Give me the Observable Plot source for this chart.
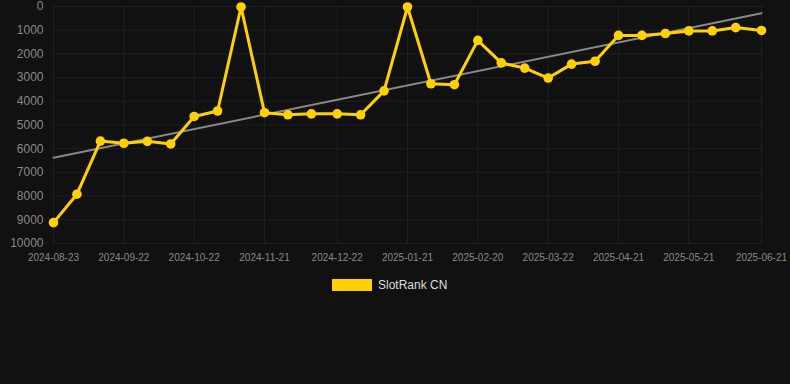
<!DOCTYPE html>
<html>
<head>
<meta charset="utf-8">
<script src="https://cdn.jsdelivr.net/npm/d3@7"></script>
<script src="https://cdn.jsdelivr.net/npm/@observablehq/plot@0.6"></script>
<style>
  html, body { margin: 0; padding: 0; background: #111111; }
  body { width: 790px; height: 384px; overflow: hidden; font-family: "Liberation Sans", Arial, sans-serif; }
  #legend { position: absolute; left: 332px; top: 278px; display: flex; align-items: center; font-size: 12px; color: #dddddd; }
  #legend .sw { width: 40px; height: 12px; background: #ffd100; margin-right: 6px; }
</style>
</head>
<body>
<div id="chart"></div>
<div id="legend"><div class="sw"></div><span>SlotRank CN</span></div>
<script>
const dates = ["2024-08-23","2024-09-02","2024-09-12","2024-09-22","2024-10-02","2024-10-12","2024-10-22","2024-11-01","2024-11-11","2024-11-21","2024-12-01","2024-12-11","2024-12-22","2025-01-01","2025-01-11","2025-01-21","2025-01-31","2025-02-10","2025-02-20","2025-03-02","2025-03-12","2025-03-22","2025-04-01","2025-04-11","2025-04-21","2025-05-01","2025-05-11","2025-05-21","2025-05-31","2025-06-10","2025-06-21"];
const ranks = [9120,7920,5680,5770,5690,5800,4640,4410,20,4480,4570,4530,4530,4570,3560,20,3260,3300,1430,2380,2600,3020,2430,2310,1220,1220,1140,1030,1030,890,1010];
const xTickLabels = ["2024-08-23","2024-09-22","2024-10-22","2024-11-21","2024-12-22","2025-01-21","2025-02-20","2025-03-22","2025-04-21","2025-05-21","2025-06-21"];
const yTicks = [0,1000,2000,3000,4000,5000,6000,7000,8000,9000,10000];
const seriesName = "SlotRank CN";

const parse = d3.utcParse("%Y-%m-%d");
const data = dates.map((d, i) => ({date: parse(d), rank: ranks[i]}));
const xTicks = xTickLabels.map(parse);

const chart = Plot.plot({
  width: 790,
  height: 270,
  marginTop: 6,
  marginBottom: 27,
  marginLeft: 53,
  marginRight: 29,
  style: {background: "#111111", fontFamily: "'Liberation Sans', Arial, sans-serif"},
  x: {type: "utc", domain: [parse("2024-08-23"), parse("2025-06-21")], label: null},
  y: {domain: [0, 10000], reverse: true, label: null},
  marks: [
    Plot.gridY(yTicks, {stroke: "#1f1f1f", strokeOpacity: 1}),
    Plot.gridX(xTicks, {stroke: "#1f1f1f", strokeOpacity: 1}),
    Plot.axisY(yTicks, {tickSize: 0, tickPadding: 10, fontSize: 12, fill: "#888888", label: null, tickFormat: d => String(d)}),
    Plot.axisX(xTicks, {tickSize: 0, tickPadding: 10, fontSize: 10, fill: "#888888", label: null, tickFormat: d3.utcFormat("%Y-%m-%d")}),
    Plot.linearRegressionY(data, {x: "date", y: "rank", stroke: "#888888", strokeWidth: 2, ci: 0}),
    Plot.line(data, {x: "date", y: "rank", stroke: "#ffd100", strokeWidth: 3}),
    Plot.dot(data, {x: "date", y: "rank", fill: "#ffd100", r: 4.8})
  ]
});
document.getElementById("chart").appendChild(chart);
</script>
</body>
</html>
